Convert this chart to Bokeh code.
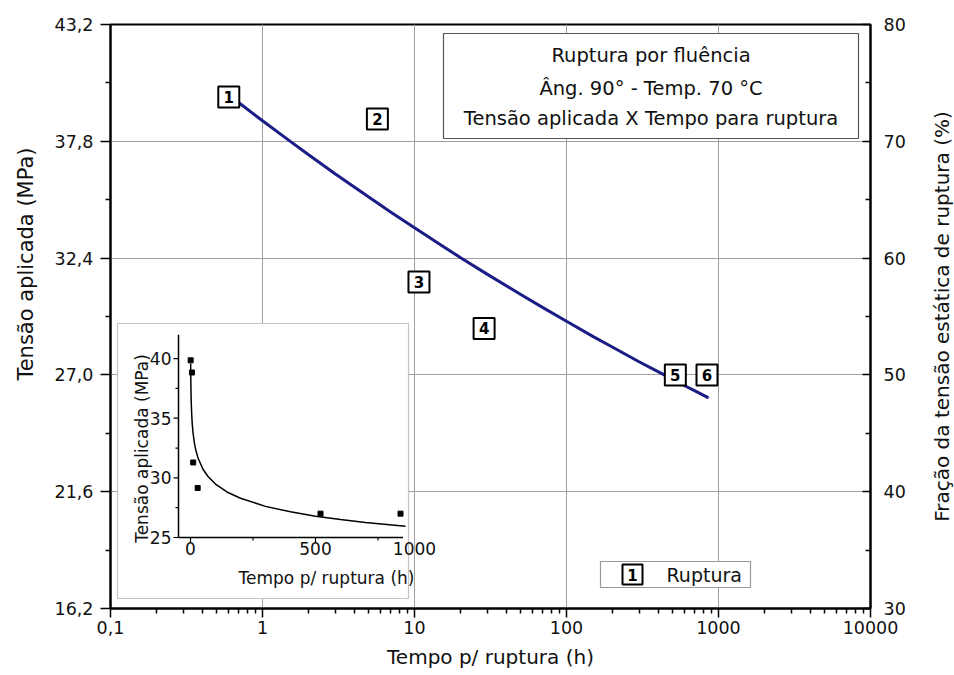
import math
from bokeh.plotting import figure
from bokeh.layouts import row
from bokeh.models import Range1d, LinearAxis, FixedTicker, LinearScale, Title
from bokeh.core.properties import value
from bokeh.embed import file_html
from bokeh.resources import INLINE

FONT = "DejaVu Sans"
TXT = "#111111"

# ---------------- data ----------------
fit_time_h = [0.7, 1, 1.5, 2, 3, 5, 7, 10, 15, 20, 30, 50, 70, 100, 150, 200,
              300, 400, 500, 600, 700, 860]
fit_stress_mpa = [39.58, 38.75, 37.83, 37.19, 36.30, 35.22, 34.52, 33.80, 32.99,
                  32.43, 31.66, 30.72, 30.11, 29.48, 28.77, 28.29, 27.61, 27.15,
                  26.79, 26.50, 26.26, 25.94]
rupture_ids = ["1", "2", "3", "4", "5", "6"]
rupture_time_h = [0.6, 5.7, 10.7, 28.7, 520, 840]
rupture_stress_mpa = [39.85, 38.83, 31.29, 29.15, 27.0, 27.0]

x_ticks = [0.1, 1, 10, 100, 1000, 10000]
x_tick_labels = ["0,1", "1", "10", "100", "1000", "10000"]
y_ticks = [16.2, 21.6, 27.0, 32.4, 37.8, 43.2]
y_tick_labels = ["16,2", "21,6", "27,0", "32,4", "37,8", "43,2"]
frac_ticks = [30, 40, 50, 60, 70, 80]
frac_minor = [35, 45, 55, 65, 75]
inset_x_ticks = [0, 500, 1000]
inset_x_minor = [250, 750]
inset_y_ticks = [25, 30, 35, 40]
inset_y_minor = [27.5, 32.5, 37.5]
inset_x_range = (-48, 850)
inset_y_range = (25, 42)

title_lines = ["Ruptura por fluência", "Âng. 90° - Temp. 70 °C",
               "Tensão aplicada X Tempo para ruptura"]
y_label = "Tensão aplicada (MPa)"
x_label = "Tempo p/ ruptura (h)"
frac_label = "Fração da tensão estática de ruptura (%)"
legend_label = "Ruptura"

# ---------------- layout (pixels) ----------------
W_ALL, H = 954, 675
W2 = 28                 # narrow strip holding the right-hand label
W = W_ALL - W2
FL, FR, FT, FB = 110, 870, 24, 608
X0, X1 = x_ticks[0], x_ticks[-1]
Y0, Y1 = y_ticks[0], y_ticks[-1]
LX0, LX1 = math.log10(X0), math.log10(X1)


def tx(px):
    return 10 ** (LX0 + (px - FL) / (FR - FL) * (LX1 - LX0))


def sy(py):
    return Y1 - (py - FT) / (FB - FT) * (Y1 - Y0)


# inset mapping: t=0 at x 190, 0.25 px per hour; 25 MPa at y 537, 11.93 px/MPa
I_X0PX, I_XS = 190.0, 0.25
I_Y0PX, I_YS = 537.0, 11.93


def itx(px):
    return (px - I_X0PX) / I_XS


def isy(py):
    return 25 + (I_Y0PX - py) / I_YS


p = figure(width=W, height=H, x_axis_type="log",
           x_range=Range1d(X0, X1), y_range=Range1d(Y0, Y1),
           output_backend="svg", toolbar_location=None,
           min_border_left=FL, min_border_right=W - FR,
           min_border_top=FT, min_border_bottom=H - FB)
p.background_fill_color = "white"
p.border_fill_color = "white"
p.outline_line_color = "black"
p.outline_line_width = 2

p.extra_x_ranges = {"ix": Range1d(itx(FL), itx(FR))}
p.extra_y_ranges = {"iy": Range1d(isy(FB), isy(FT)),
                    "frac": Range1d(frac_ticks[0], frac_ticks[-1])}
p.extra_x_scales = {"ix": LinearScale()}
p.extra_y_scales = {"iy": LinearScale(), "frac": LinearScale()}

# ---- axes ----
minor_x = [m * 10 ** e for e in range(-1, 4) for m in range(2, 10)]
xa = p.xaxis[0]
xa.ticker = FixedTicker(ticks=x_ticks, minor_ticks=minor_x)
xa.major_label_overrides = dict(zip(x_ticks, x_tick_labels))
xa.axis_label = x_label

ya = p.yaxis[0]
ya.ticker = FixedTicker(ticks=y_ticks,
                        minor_ticks=[(a + b) / 2 for a, b in zip(y_ticks[:-1], y_ticks[1:])])
ya.major_label_overrides = dict(zip(y_ticks, y_tick_labels))

ra = LinearAxis(y_range_name="frac", ticker=FixedTicker(ticks=frac_ticks, minor_ticks=frac_minor))
p.add_layout(ra, "right")

for ax in (xa, ya, ra):
    ax.axis_line_color = "black"
    ax.axis_line_width = 2
    ax.major_tick_line_color = "black"
    ax.minor_tick_line_color = "black"
    ax.major_tick_line_width = 1.5
    ax.minor_tick_line_width = 1.5
    ax.major_label_text_font = FONT
    ax.major_label_text_font_size = "17.5px"
    ax.major_label_text_color = TXT
    ax.axis_label_text_font = FONT
    ax.axis_label_text_font_size = "20px"
    ax.axis_label_text_font_style = "normal"
    ax.axis_label_text_color = TXT

xa.major_tick_in, xa.major_tick_out = 0, 9
xa.minor_tick_in, xa.minor_tick_out = 0, 5
xa.major_label_standoff = 3
xa.axis_label_standoff = 8
ya.major_tick_in, ya.major_tick_out = 0, 10
ya.minor_tick_in, ya.minor_tick_out = 0, 5
ya.major_label_standoff = 7
ra.major_tick_in, ra.major_tick_out = 8, 0
ra.minor_tick_in, ra.minor_tick_out = 5, 0
ra.major_label_standoff = 13

# left label placed like the reference (upper part of the axis)
p.add_layout(Title(text=y_label, align="right", offset=123, vertical_align="middle",
                   standoff=25, text_font=FONT, text_font_size="21px",
                   text_font_style="normal", text_color=TXT), "left")

p.xgrid.grid_line_color = "#a0a0a0"
p.ygrid.grid_line_color = "#a0a0a0"
p.xgrid.grid_line_width = 1
p.ygrid.grid_line_width = 1

# ---- main fit curve ----
p.line(fit_time_h, fit_stress_mpa, line_color="#1c1c86", line_width=3)

# ---- numbered rupture markers ----
p.scatter(rupture_time_h, rupture_stress_mpa, marker="square", size=21,
          fill_color="white", line_color="black", line_width=2)
p.text(rupture_time_h, rupture_stress_mpa, text=rupture_ids, text_font=value(FONT),
       text_font_size="15px", text_font_style="bold", text_align="center",
       text_baseline="middle", text_color="black")

# ---- title box ----
p.quad(left=[tx(443)], right=[tx(858)], bottom=[sy(138)], top=[sy(33)],
       fill_color="white", line_color="#555555", line_width=1.2)
p.text([tx(650.5)] * 3, [sy(55), sy(88), sy(118)], text=title_lines,
       text_font=value(FONT), text_font_size="19.5px", text_align="center",
       text_baseline="middle", text_color=TXT)

# ---- legend box ----
p.quad(left=[tx(600)], right=[tx(750)], bottom=[sy(587)], top=[sy(561)],
       fill_color="white", line_color="#9a9a9a", line_width=1.2)
p.scatter([tx(632)], [sy(574)], marker="square", size=20, fill_color="white",
          line_color="black", line_width=2)
p.text([tx(632)], [sy(574)], text=[rupture_ids[0]], text_font=value(FONT),
       text_font_size="15px", text_font_style="bold", text_align="center",
       text_baseline="middle", text_color="black")
p.text([tx(666)], [sy(574)], text=[legend_label], text_font=value(FONT),
       text_font_size="19px", text_align="left", text_baseline="middle",
       text_color=TXT)

# ---------------- inset ----------------
R = dict(x_range_name="ix", y_range_name="iy")
p.quad(left=[itx(117)], right=[itx(408)], bottom=[isy(598)], top=[isy(323)],
       fill_color="white", line_color="#c4c4c4", line_width=1.2, **R)

ixa, ixb = inset_x_range
iya, iyb = inset_y_range
p.segment(x0=[ixa, ixa], y0=[iya, iya], x1=[ixb, ixa], y1=[iya, iyb],
          line_color="black", line_width=1.5, **R)
p.segment(x0=[ixa] * len(inset_y_ticks), y0=inset_y_ticks,
          x1=[ixa - 5 / I_XS] * len(inset_y_ticks), y1=inset_y_ticks,
          line_color="black", line_width=1.2, **R)
p.segment(x0=[ixa] * len(inset_y_minor), y0=inset_y_minor,
          x1=[ixa - 3 / I_XS] * len(inset_y_minor), y1=inset_y_minor,
          line_color="black", line_width=1.2, **R)
xt_in = [t for t in inset_x_ticks if ixa <= t <= ixb]
p.segment(x0=xt_in, y0=[iya] * len(xt_in), x1=xt_in, y1=[iya - 5 / I_YS] * len(xt_in),
          line_color="black", line_width=1.2, **R)
p.segment(x0=inset_x_minor, y0=[iya] * len(inset_x_minor), x1=inset_x_minor,
          y1=[iya - 3 / I_YS] * len(inset_x_minor),
          line_color="black", line_width=1.2, **R)
p.text([ixa - 7 / I_XS] * len(inset_y_ticks), inset_y_ticks,
       text=[str(v) for v in inset_y_ticks], text_font=value(FONT),
       text_font_size="17px", text_align="right", text_baseline="middle",
       text_color=TXT, **R)
xl_pos = [min(t, itx(414)) for t in inset_x_ticks]
p.text(xl_pos, [iya - 4 / I_YS] * len(inset_x_ticks),
       text=[str(v) for v in inset_x_ticks], text_font=value(FONT),
       text_font_size="17px", text_align="center", text_baseline="top",
       text_color=TXT, **R)
p.text([itx(141)], [isy(448)], text=[y_label], angle=math.pi / 2,
       text_font=value(FONT), text_font_size="17px", text_align="center",
       text_baseline="middle", text_color=TXT, **R)
p.text([itx(326)], [isy(577)], text=[x_label],
       text_font=value(FONT), text_font_size="17px", text_align="center",
       text_baseline="middle", text_color=TXT, **R)
p.line(fit_time_h, fit_stress_mpa, line_color="black", line_width=1.5, **R)
p.scatter(rupture_time_h, rupture_stress_mpa, marker="square", size=5,
          fill_color="black", line_color="black", **R)

# ---------------- right-hand label strip ----------------
p2 = figure(width=W2, height=H, x_range=Range1d(0, 1),
            y_range=Range1d(frac_ticks[0], frac_ticks[-1]),
            output_backend="svg", toolbar_location=None,
            min_border_left=W2 - 2, min_border_right=0,
            min_border_top=FT, min_border_bottom=H - FB)
p2.outline_line_color = None
p2.background_fill_color = "white"
p2.border_fill_color = "white"
p2.grid.visible = False
p2.xaxis.visible = False
p2.xaxis.ticker = FixedTicker(ticks=[])
la = p2.yaxis[0]
la.ticker = FixedTicker(ticks=[])
la.axis_label = frac_label
la.axis_label_text_font = FONT
la.axis_label_text_font_size = "20px"
la.axis_label_text_font_style = "normal"
la.axis_label_text_color = TXT
la.axis_label_standoff = 0
la.major_label_standoff = 0
la.major_tick_in = la.major_tick_out = 0
la.minor_tick_in = la.minor_tick_out = 0
la.axis_line_color = None

layout = row(p, p2, spacing=0)
open("out.html", "w").write(file_html(layout, INLINE))
